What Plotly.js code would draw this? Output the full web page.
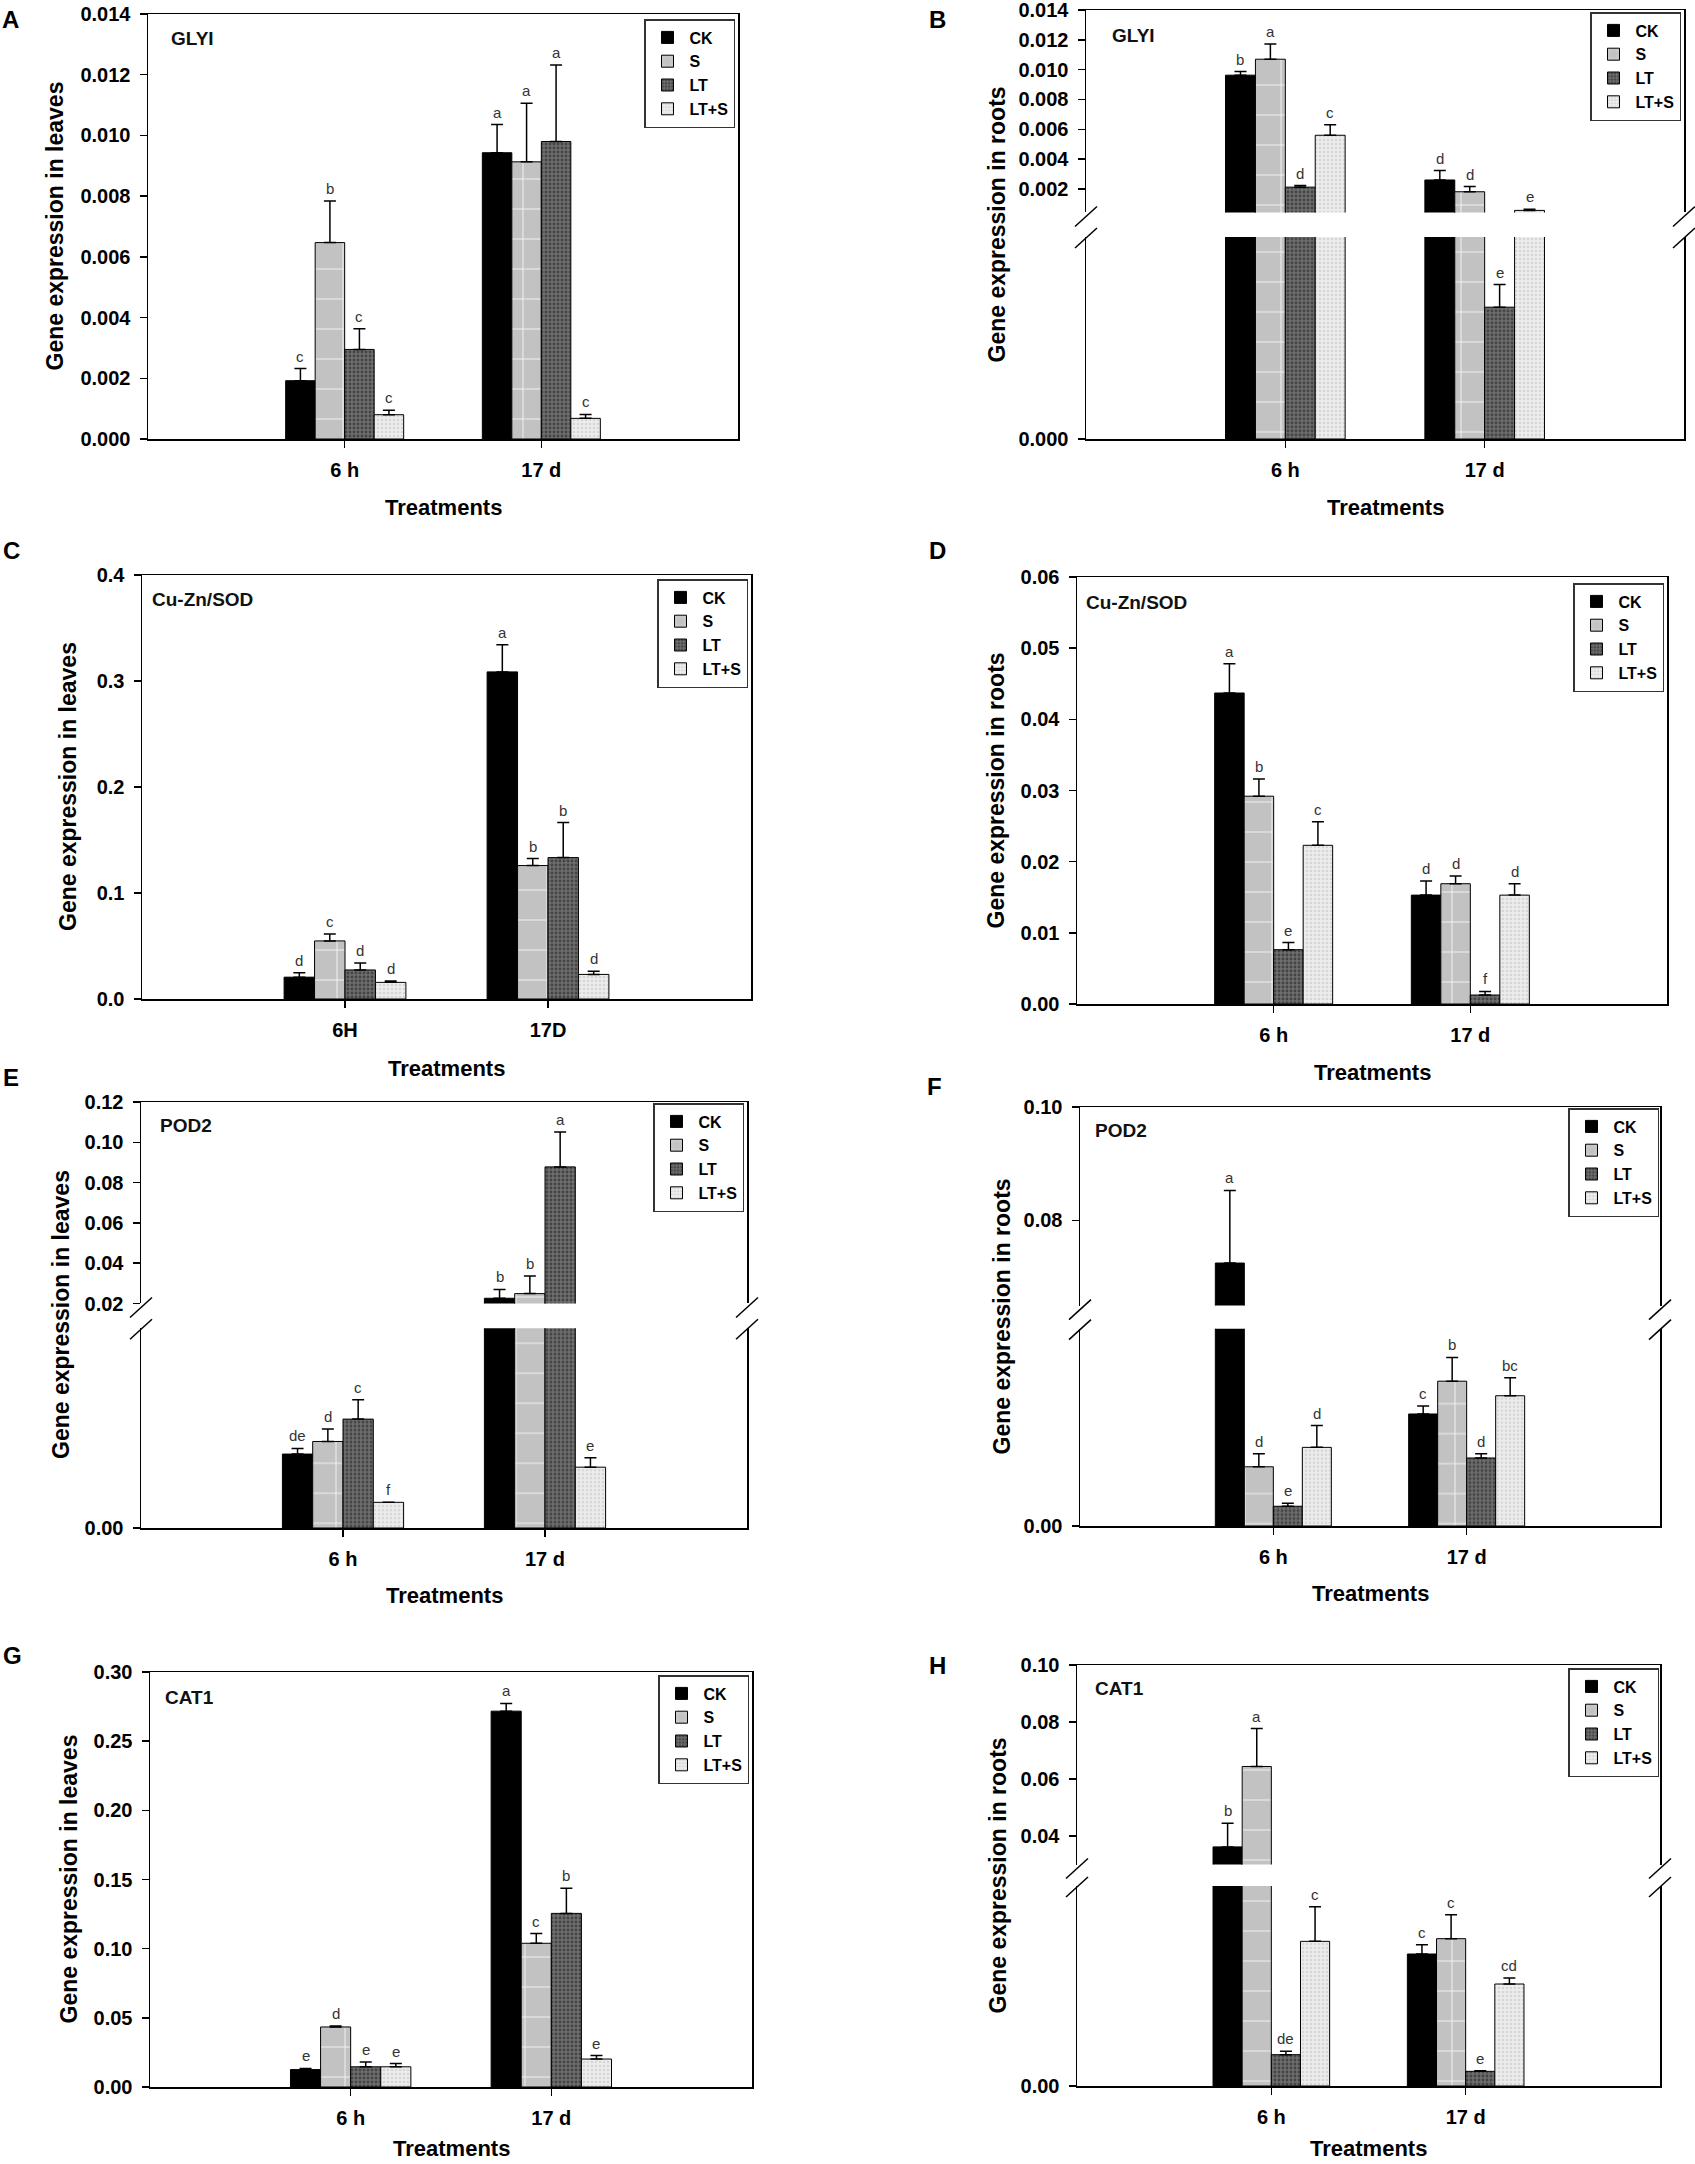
<!DOCTYPE html>
<html>
<head>
<meta charset="utf-8">
<script src="https://cdn.plot.ly/plotly-3.0.1.min.js"></script>
<style>
  html, body { margin: 0; padding: 0; background: #fff; }
  #page { position: relative; width: 1695px; height: 2164px; overflow: hidden; }
  .panel { position: absolute; }
</style>
</head>
<body>
<div id="page">
  <div class="panel" id="panel_a"></div>
  <div class="panel" id="panel_b"></div>
  <div class="panel" id="panel_c"></div>
  <div class="panel" id="panel_d"></div>
  <div class="panel" id="panel_e"></div>
  <div class="panel" id="panel_f"></div>
  <div class="panel" id="panel_g"></div>
  <div class="panel" id="panel_h"></div>
</div>
<script>
// Treatments and sampling times
const series_names = ['CK', 'S', 'LT', 'LT+S'];
const time_labels = ['6 h', '17 d'];
const time_labels_caps = ['6H', '17D'];

// Rows follow series_names, columns follow the sampling times.
// A - GLYI in leaves
const glyi_leaves_mean = [[0.00192, 0.00943], [0.00647, 0.00913], [0.00295, 0.0098], [0.0008, 0.00068]];
const glyi_leaves_err = [[0.0004, 0.00093], [0.00137, 0.00193], [0.00068, 0.00252], [0.00015, 0.00013]];
const glyi_leaves_letters = [['c', 'a'], ['b', 'a'], ['c', 'a'], ['c', 'c']];
const glyi_leaves_ticks = [0, 0.002, 0.004, 0.006, 0.008, 0.010, 0.012, 0.014];

// B - GLYI in roots
const glyi_roots_mean = [[0.00963, 0.0026], [0.0107, 0.00181], [0.00212, 0.000274], [0.0056, 0.00056]];
const glyi_roots_err = [[0.00024, 0.00063], [0.00102, 0.00035], [0.00011, 0.000047], [0.0007, 0.00007]];
const glyi_roots_letters = [['b', 'd'], ['a', 'd'], ['d', 'e'], ['c', 'e']];
const glyi_roots_ticks = [0.002, 0.004, 0.006, 0.008, 0.010, 0.012, 0.014];

// C - Cu-Zn/SOD in leaves
const sod_leaves_mean = [[0.0206, 0.3086], [0.0548, 0.1259], [0.0274, 0.1334], [0.0157, 0.0232]];
const sod_leaves_err = [[0.0042, 0.0255], [0.0065, 0.0066], [0.0065, 0.033], [0.0013, 0.0029]];
const sod_leaves_letters = [['d', 'a'], ['c', 'b'], ['d', 'b'], ['d', 'd']];
const sod_leaves_ticks = [0, 0.1, 0.2, 0.3, 0.4];

// D - Cu-Zn/SOD in roots
const sod_roots_mean = [[0.0437, 0.0153], [0.0292, 0.0169], [0.00763, 0.00126], [0.0223, 0.0153]];
const sod_roots_err = [[0.0041, 0.002], [0.0024, 0.0011], [0.001, 0.0005], [0.0033, 0.0016]];
const sod_roots_letters = [['a', 'd'], ['b', 'd'], ['e', 'f'], ['c', 'd']];
const sod_roots_ticks = [0, 0.01, 0.02, 0.03, 0.04, 0.05, 0.06];

// E - POD2 in leaves
const pod_leaves_mean = [[0.0074, 0.0226], [0.00866, 0.0249], [0.0109, 0.0878], [0.00257, 0.00609]];
const pod_leaves_err = [[0.00056, 0.0044], [0.00124, 0.0087], [0.00195, 0.0173], [0, 0.00095]];
const pod_leaves_letters = [['de', 'b'], ['d', 'b'], ['c', 'a'], ['f', 'e']];
const pod_leaves_ticks = [0.02, 0.04, 0.06, 0.08, 0.10, 0.12];

// F - POD2 in roots
const pod_roots_mean = [[0.0725, 0.0369], [0.0195, 0.0477], [0.0065, 0.0224], [0.0259, 0.0429]];
const pod_roots_err = [[0.0128, 0.0026], [0.0043, 0.0078], [0.001, 0.0014], [0.0072, 0.0059]];
const pod_roots_letters = [['a', 'c'], ['d', 'b'], ['e', 'd'], ['d', 'bc']];
const pod_roots_ticks = [0.08, 0.10];

// G - CAT1 in leaves
const cat_leaves_mean = [[0.0126, 0.2717], [0.0434, 0.1039], [0.0146, 0.1255], [0.0146, 0.0202]];
const cat_leaves_err = [[0.0008, 0.0056], [0.0007, 0.007], [0.0035, 0.0182], [0.0023, 0.0025]];
const cat_leaves_letters = [['e', 'a'], ['d', 'c'], ['e', 'b'], ['e', 'e']];
const cat_leaves_ticks = [0, 0.05, 0.10, 0.15, 0.20, 0.25, 0.30];

// H - CAT1 in roots
const cat_roots_mean = [[0.0362, 0.0198], [0.0644, 0.0221], [0.0047, 0.0022], [0.0217, 0.0153]];
const cat_roots_err = [[0.0083, 0.0014], [0.0133, 0.0036], [0.0005, 0.0001], [0.0052, 0.0009]];
const cat_roots_letters = [['b', 'c'], ['a', 'c'], ['de', 'e'], ['c', 'cd']];
const cat_roots_ticks = [0.04, 0.06, 0.08, 0.10];

const config = { staticPlot: true };
const FONT = 'Liberation Sans, Arial, Helvetica, sans-serif';
const BAR_GAP = 0.4;
const bar_width = (1 - BAR_GAP) / series_names.length;
const TOP_PAD = 45;
const BOTTOM_PAD = 110;
const columns = [{ left: 0, width: 848 }, { left: 848, width: 847 }];

// SigmaPlot-like fills: solid black, grey grid, dark stipple, light stipple
const series_styles = [
  { color: '#000000', pattern: { shape: '' } },
  { color: '#c2c2c2', pattern: { shape: '+', bgcolor: '#c2c2c2', fgcolor: '#f4f4f4', size: 30, solidity: 0.06 } },
  { color: '#666666', pattern: { shape: '.', bgcolor: '#6e6e6e', fgcolor: '#444444', size: 4, solidity: 0.4 } },
  { color: '#ebebeb', pattern: { shape: '.', bgcolor: '#ededed', fgcolor: '#d6d6d6', size: 4, solidity: 0.35 } },
];

// Plot boxes are [left, right, top, bottom] in page pixels.
const panels = [
  { div_name: 'panel_a', col: 0, plot: [148, 738, 14, 439], letter: 'A', letter_at: [10, 19],
    gene: 'GLYI', gene_at: [21, 24], y_title: 'Gene expression in leaves', y_title_x: 54, x_title_dy: 68,
    times: time_labels, mean: glyi_leaves_mean, err: glyi_leaves_err, letters: glyi_leaves_letters,
    y_range: [0, 0.014], y_ticks: glyi_leaves_ticks, tick_format: '.3f', legend_at: [735, 19] },
  { div_name: 'panel_b', col: 1, plot: [1086, 1684, 10, 439], letter: 'B', letter_at: [937, 19],
    gene: 'GLYI', gene_at: [24, 25], y_title: 'Gene expression in roots', y_title_x: 996, x_title_dy: 68,
    times: time_labels, mean: glyi_roots_mean, err: glyi_roots_err, letters: glyi_roots_letters,
    y_range: [0.00042, 0.014], y_ticks: glyi_roots_ticks, tick_format: '.3f', legend_at: [1681, 12],
    split: { at: 0.00042, lower_domain: 0.471, upper_domain: 0.528 } },
  { div_name: 'panel_c', col: 0, plot: [142, 751, 575, 999], letter: 'C', letter_at: [11, 550],
    gene: 'Cu-Zn/SOD', gene_at: [8, 24], y_title: 'Gene expression in leaves', y_title_x: 68, x_title_dy: 69,
    times: time_labels_caps, mean: sod_leaves_mean, err: sod_leaves_err, letters: sod_leaves_letters,
    y_range: [0, 0.4], y_ticks: sod_leaves_ticks, tick_format: '.1f', legend_at: [748, 579] },
  { div_name: 'panel_d', col: 1, plot: [1077, 1667, 577, 1004], letter: 'D', letter_at: [937, 550],
    gene: 'Cu-Zn/SOD', gene_at: [7, 25], y_title: 'Gene expression in roots', y_title_x: 995, x_title_dy: 68,
    times: time_labels, mean: sod_roots_mean, err: sod_roots_err, letters: sod_roots_letters,
    y_range: [0, 0.06], y_ticks: sod_roots_ticks, tick_format: '.2f', legend_at: [1664, 583] },
  { div_name: 'panel_e', col: 0, plot: [141, 747, 1102, 1528], letter: 'E', letter_at: [11, 1077],
    gene: 'POD2', gene_at: [17, 23], y_title: 'Gene expression in leaves', y_title_x: 61, x_title_dy: 67,
    times: time_labels, mean: pod_leaves_mean, err: pod_leaves_err, letters: pod_leaves_letters,
    y_range: [0.02, 0.12], y_ticks: pod_leaves_ticks, tick_format: '.2f', legend_at: [744, 1103],
    split: { at: 0.02, lower_domain: 0.469, upper_domain: 0.527 } },
  { div_name: 'panel_f', col: 1, plot: [1080, 1660, 1107, 1526], letter: 'F', letter_at: [934, 1086],
    gene: 'POD2', gene_at: [13, 23], y_title: 'Gene expression in roots', y_title_x: 1001, x_title_dy: 67,
    times: time_labels, mean: pod_roots_mean, err: pod_roots_err, letters: pod_roots_letters,
    y_range: [0.065, 0.10], y_ticks: pod_roots_ticks, tick_format: '.2f', legend_at: [1659, 1108],
    split: { at: 0.065, lower_domain: 0.471, upper_domain: 0.526 } },
  { div_name: 'panel_g', col: 0, plot: [150, 752, 1672, 2087], letter: 'G', letter_at: [12, 1655],
    gene: 'CAT1', gene_at: [13, 25], y_title: 'Gene expression in leaves', y_title_x: 68, x_title_dy: 61,
    times: time_labels, mean: cat_leaves_mean, err: cat_leaves_err, letters: cat_leaves_letters,
    y_range: [0, 0.30], y_ticks: cat_leaves_ticks, tick_format: '.2f', legend_at: [749, 1675] },
  { div_name: 'panel_h', col: 1, plot: [1077, 1660, 1665, 2086], letter: 'H', letter_at: [937, 1665],
    gene: 'CAT1', gene_at: [16, 23], y_title: 'Gene expression in roots', y_title_x: 997, x_title_dy: 62,
    times: time_labels, mean: cat_roots_mean, err: cat_roots_err, letters: cat_roots_letters,
    y_range: [0.03, 0.10], y_ticks: cat_roots_ticks, tick_format: '.2f', legend_at: [1659, 1668],
    split: { at: 0.03, lower_domain: 0.475, upper_domain: 0.526 } },
];

function make_bar(p, k, xa, ya, in_legend) {
  var style = series_styles[k];
  return {
    type: 'bar',
    name: series_names[k],
    x: p.times.map((t, i) => i),
    y: p.mean[k],
    xaxis: xa,
    yaxis: ya,
    showlegend: in_legend,
    marker: {
      color: style.color,
      line: { color: '#000', width: 1 },
      pattern: Object.assign({}, style.pattern),
    },
    error_y: {
      type: 'data',
      symmetric: false,
      array: p.err[k],
      arrayminus: p.err[k].map(() => 0),
      color: '#000',
      thickness: 1.5,
      width: 6,
    },
    hoverinfo: 'skip',
  };
}

// Two short slanted strokes on each side of the gap of a broken axis.
function break_marks(split) {
  var shapes = [];
  [0, 1].forEach((side) => {
    [[split.upper_domain, -4], [split.lower_domain, -1]].forEach((mark) => {
      shapes.push({
        type: 'line', xref: 'paper', yref: 'paper',
        xsizemode: 'pixel', ysizemode: 'pixel', xanchor: side, yanchor: mark[0],
        x0: -11, x1: 11, y0: mark[1] - 10, y1: mark[1] + 10,
        line: { color: '#000', width: 1.5 },
      });
    });
  });
  return shapes;
}

function draw_panel(p) {
  var col = columns[p.col];
  var plot_w = p.plot[1] - p.plot[0];
  var plot_h = p.plot[3] - p.plot[2];
  var height = plot_h + TOP_PAD + BOTTOM_PAD;
  var div = document.getElementById(p.div_name);
  div.style.left = col.left + 'px';
  div.style.top = p.plot[2] - TOP_PAD + 'px';
  div.style.width = col.width + 'px';
  div.style.height = height + 'px';

  var split = p.split;
  var chart_data = [];
  series_names.forEach((name, k) => {
    chart_data.push(make_bar(p, k, 'x', 'y', true));
    if (split) chart_data.push(make_bar(p, k, 'x2', 'y2', false));
  });

  var annotations = [];
  // significance letters above each error bar
  series_names.forEach((name, k) => {
    p.times.forEach((t, i) => {
      var top = p.mean[k][i] + p.err[k][i];
      var upper = split && top > split.at;
      annotations.push({
        xref: upper ? 'x2' : 'x',
        yref: upper ? 'y2' : 'y',
        x: i + (k - (series_names.length - 1) / 2) * bar_width,
        y: top,
        text: p.letters[k][i],
        showarrow: false,
        yanchor: 'bottom',
        yshift: 2,
        font: { family: FONT, size: 15, color: '#333' },
      });
    });
  });
  annotations.push({
    xref: 'paper', yref: 'paper', x: 0, y: 1,
    xshift: p.letter_at[0] - p.plot[0], yshift: p.plot[2] - p.letter_at[1],
    xanchor: 'center', yanchor: 'middle', showarrow: false,
    text: p.letter, font: { family: FONT, size: 24, weight: 'bold', color: '#000' },
  });
  annotations.push({
    xref: 'paper', yref: 'paper', x: 0, y: 1,
    xshift: p.gene_at[0], yshift: -p.gene_at[1],
    xanchor: 'left', yanchor: 'middle', showarrow: false,
    text: p.gene, font: { family: FONT, size: 19, weight: 'bold', color: '#111' },
  });
  annotations.push({
    xref: 'paper', yref: 'paper', x: 0, y: 0.5,
    xshift: p.y_title_x - p.plot[0], textangle: -90,
    xanchor: 'center', yanchor: 'middle', showarrow: false,
    text: p.y_title, font: { family: FONT, size: 23, weight: 'bold', color: '#000' },
  });
  annotations.push({
    xref: 'paper', yref: 'paper', x: 0.5, y: 0, yshift: -p.x_title_dy,
    xanchor: 'center', yanchor: 'middle', showarrow: false,
    text: 'Treatments', font: { family: FONT, size: 22, weight: 'bold', color: '#000' },
  });

  var axis_common = {
    showgrid: false,
    zeroline: false,
    showline: true,
    linecolor: '#000',
    linewidth: 1.5,
    ticks: 'outside',
    ticklen: 7,
    tickwidth: 1.5,
    tickcolor: '#000',
    ticklabelstandoff: 5,
    tickfont: { family: FONT, size: 20, weight: 'bold', color: '#000' },
    fixedrange: true,
  };

  var chart_layout = {
    width: col.width,
    height: height,
    margin: {
      l: p.plot[0] - col.left,
      r: col.left + col.width - p.plot[1],
      t: TOP_PAD,
      b: BOTTOM_PAD,
      pad: 0,
    },
    paper_bgcolor: 'rgba(0,0,0,0)',
    plot_bgcolor: 'rgba(0,0,0,0)',
    font: { family: FONT, color: '#000' },
    barmode: 'group',
    bargap: BAR_GAP,
    bargroupgap: 0,
    showlegend: true,
    legend: {
      x: (p.legend_at[0] - p.plot[0]) / plot_w,
      xanchor: 'right',
      y: 1 - (p.legend_at[1] - p.plot[2]) / plot_h,
      yanchor: 'top',
      bgcolor: '#fff',
      bordercolor: '#333',
      borderwidth: 1.5,
      itemwidth: 34,
      font: { family: FONT, size: 16, weight: 'bold', color: '#000' },
    },
    xaxis: Object.assign({}, axis_common, {
      range: [-1, 2],
      tickvals: p.times.map((t, i) => i),
      ticktext: p.times,
      mirror: !split,
      anchor: 'y',
    }),
    annotations: annotations,
    shapes: [],
  };

  if (split) {
    chart_layout.yaxis = Object.assign({}, axis_common, {
      domain: [0, split.lower_domain],
      range: [0, split.at],
      tickvals: [0],
      tickformat: p.tick_format,
      mirror: true,
    });
    chart_layout.yaxis2 = Object.assign({}, axis_common, {
      domain: [split.upper_domain, 1],
      range: p.y_range,
      tickvals: p.y_ticks,
      tickformat: p.tick_format,
      mirror: true,
      anchor: 'x2',
    });
    chart_layout.xaxis2 = {
      range: [-1, 2],
      anchor: 'y2',
      side: 'top',
      showline: true,
      linecolor: '#000',
      linewidth: 1.5,
      ticks: '',
      showticklabels: false,
      showgrid: false,
      zeroline: false,
      fixedrange: true,
    };
    chart_layout.shapes = break_marks(split);
  } else {
    chart_layout.yaxis = Object.assign({}, axis_common, {
      range: p.y_range,
      tickvals: p.y_ticks,
      tickformat: p.tick_format,
      mirror: true,
    });
  }

  Plotly.newPlot(p.div_name, chart_data, chart_layout, config);
}

function init() {
  panels.forEach((p) => draw_panel(p));
}

init();
</script>
</body>
</html>
